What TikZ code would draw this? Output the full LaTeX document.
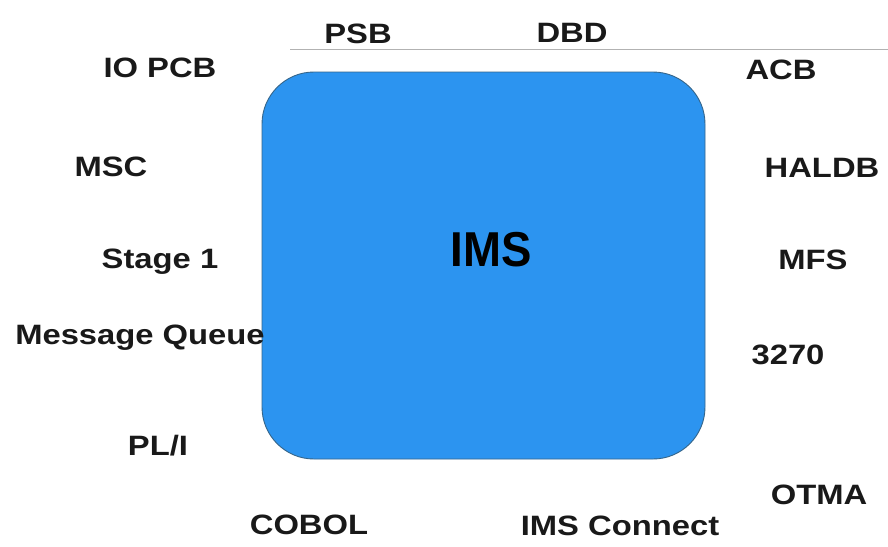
\documentclass[tikz,border=0pt]{standalone}
\usepackage{fontspec}
\setmainfont{Liberation Sans}
\newfontfamily\lblfont{Liberation Sans}[FakeStretch=1.17]
\newfontfamily\imsfont{Liberation Sans}[FakeStretch=0.93]
\definecolor{imsblue}{HTML}{2C94F0}
\definecolor{imsedge}{HTML}{35658A}
\begin{document}
\begin{tikzpicture}[x=1pt,y=-1pt,
  lbl/.style={inner sep=0pt,font=\lblfont\bfseries\fontsize{28}{30}\selectfont,text=black!90},
  imsbox/.style={fill=imsblue,draw=imsedge,line width=0.9pt,rounded corners=52pt}]
\useasboundingbox (0,0) rectangle (888,546);
\fill[white] (0,0) rectangle (888,546);
\coordinate (ls) at (290,49);
\coordinate (le) at (888,49);
\draw[gray!60,line width=0.9pt] (ls) -- (le);
\draw[imsbox] (262,72) rectangle (705,459);
\node[inner sep=0pt,font=\imsfont\bfseries\fontsize{49}{52}\selectfont] (ims) at (491,250) {IMS};
\node[lbl] (psb) at (358,34) {PSB};
\node[lbl] (dbd) at (572,33) {DBD};
\node[lbl] (iopcb) at (160,68) {IO PCB};
\node[lbl] (msc) at (111,167) {MSC};
\node[lbl] (stage) at (160,262) {Stage 1};
\node[lbl] (mq) at (140,338) {Message Queue};
\node[lbl] (pli) at (158,446) {PL/I};
\node[lbl] (cobol) at (309,525) {COBOL};
\node[lbl] (conn) at (620,526) {IMS Connect};
\node[lbl] (otma) at (819,495) {OTMA};
\node[lbl] (n3270) at (788,355) {3270};
\node[lbl] (mfs) at (813,260) {MFS};
\node[lbl] (haldb) at (822,168) {HALDB};
\node[lbl] (acb) at (781,70) {ACB};
\end{tikzpicture}
\end{document}
